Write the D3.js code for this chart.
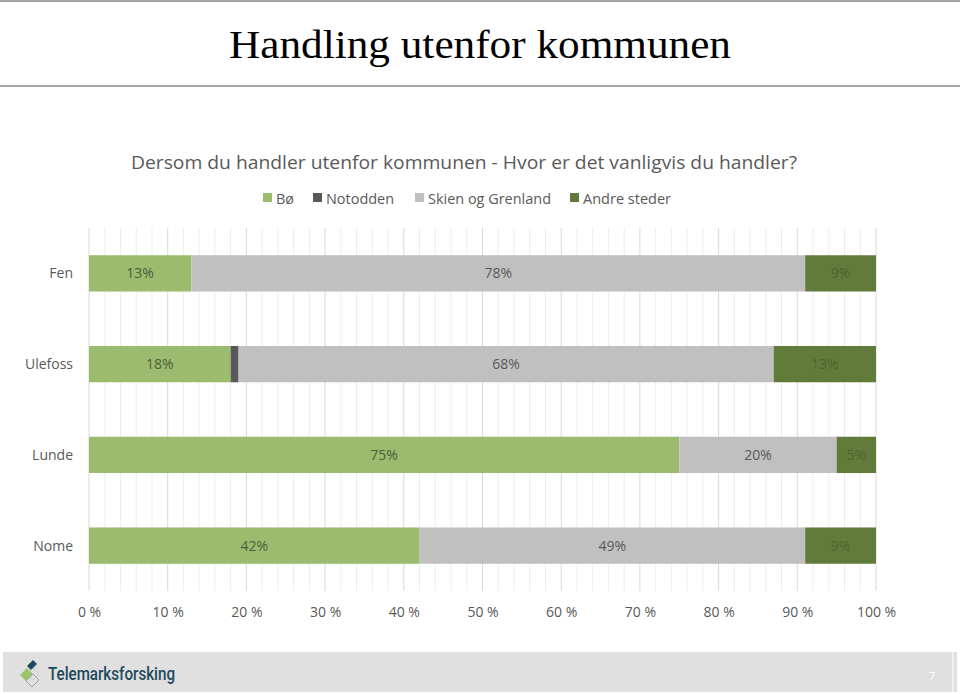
<!DOCTYPE html>
<html>
<head>
<meta charset="utf-8">
<script src="https://cdn.jsdelivr.net/npm/d3@7.9.0/dist/d3.min.js"></script>
<style>
  body { margin: 0; background: #fff; }
  svg { display: block; }
</style>
</head>
<body>
<svg id="chart" width="960" height="694"></svg>
<script>
const categories = ["Fen", "Ulefoss", "Lunde", "Nome"];
const series = ["Bø", "Notodden", "Skien og Grenland", "Andre steder"];
const bo = [13, 18, 75, 42];
const notodden = [0, 1, 0, 0];
const skien = [78, 68, 20, 49];
const andre = [9, 13, 5, 9];
const ticks = [0, 10, 20, 30, 40, 50, 60, 70, 80, 90, 100];

const colors = ["#9bbb6e", "#595959", "#c0c0c0", "#617c3a"];
const labelColors = ["#4f5e3b", "#595959", "#595959", "#4e6530"];

const rows = categories.map((c, i) => ({
  cat: c, "Bø": bo[i], "Notodden": notodden[i],
  "Skien og Grenland": skien[i], "Andre steder": andre[i]
}));
const stacked = d3.stack().keys(series)(rows);

const svg = d3.select("#chart");
const font = "'Open Sans', 'Liberation Sans', sans-serif";

// header lines
svg.append("rect").attr("x", 0).attr("y", 0).attr("width", 960).attr("height", 2).attr("fill", "#a6a6a6");
svg.append("rect").attr("x", 0).attr("y", 85).attr("width", 960).attr("height", 2).attr("fill", "#a6a6a6");

svg.append("text")
  .attr("x", 480).attr("y", 58)
  .attr("text-anchor", "middle")
  .attr("font-family", "'Liberation Serif', serif")
  .attr("font-size", 41)
  .attr("textLength", 502)
  .attr("lengthAdjust", "spacingAndGlyphs")
  .attr("fill", "#000")
  .text("Handling utenfor kommunen");

svg.append("text")
  .attr("x", 131).attr("y", 169)
  .attr("font-family", font)
  .attr("font-size", 19)
  .attr("textLength", 666)
  .attr("lengthAdjust", "spacingAndGlyphs")
  .attr("fill", "#595959")
  .text("Dersom du handler utenfor kommunen - Hvor er det vanligvis du handler?");

// legend
const legendX = [263, 313, 415, 570];
const legendW = [18, 68, 123, 88];
const legend = svg.append("g");
series.forEach((s, i) => {
  legend.append("rect").attr("x", legendX[i]).attr("y", 193)
    .attr("width", 9).attr("height", 9).attr("fill", colors[i]);
  legend.append("text").attr("x", legendX[i] + 13).attr("y", 204)
    .attr("font-family", font).attr("font-size", 14)
    .attr("textLength", legendW[i]).attr("lengthAdjust", "spacingAndGlyphs")
    .attr("fill", "#595959").text(s);
});

const x = d3.scaleLinear().domain([0, 100]).range([89, 876]);
const y = d3.scaleBand().domain(categories).range([228, 591]).paddingInner(0.6).paddingOuter(0.3);

// grid
const grid = svg.append("g");
grid.selectAll("line.minor").data(d3.range(0, 101, 2).filter(v => v % 10 !== 0))
  .join("line").attr("class", "minor")
  .attr("x1", d => x(d)).attr("x2", d => x(d))
  .attr("y1", 228).attr("y2", 591)
  .attr("stroke", "#ededed").attr("stroke-width", 1);
grid.selectAll("line.major").data(ticks)
  .join("line").attr("class", "major")
  .attr("x1", d => x(d)).attr("x2", d => x(d))
  .attr("y1", 228).attr("y2", 591)
  .attr("stroke", "#d9d9d9").attr("stroke-width", 1);

// bars
stacked.forEach((layer, si) => {
  const g = svg.append("g");
  g.selectAll("rect").data(layer).join("rect")
    .attr("x", d => x(d[0]))
    .attr("y", (d, i) => y(categories[i]))
    .attr("width", d => x(d[1]) - x(d[0]))
    .attr("height", y.bandwidth())
    .attr("fill", colors[si]);
  g.selectAll("text").data(layer.filter(d => d[1] - d[0] >= 3)).join("text")
    .attr("x", d => (x(d[0]) + x(d[1])) / 2)
    .attr("y", d => y(d.data.cat) + y.bandwidth() / 2 + 5)
    .attr("text-anchor", "middle")
    .attr("font-family", font).attr("font-size", 14)
    .attr("fill", labelColors[si])
    .text(d => Math.round(d[1] - d[0]) + "%");
});

// category labels
svg.append("g").selectAll("text").data(categories).join("text")
  .attr("x", 73).attr("y", d => y(d) + y.bandwidth() / 2 + 5)
  .attr("text-anchor", "end")
  .attr("font-family", font).attr("font-size", 14)
  .attr("fill", "#595959").text(d => d);

// x axis
const xAxis = svg.append("g").attr("transform", "translate(0,591)")
  .call(d3.axisBottom(x).tickValues(ticks).tickSize(0).tickFormat(d => d + " %"));
xAxis.select(".domain").remove();
xAxis.selectAll("text")
  .attr("dy", 0).attr("y", 26)
  .attr("font-family", font).attr("font-size", 14).attr("fill", "#595959");

// footer
svg.append("rect").attr("x", 3).attr("y", 652).attr("width", 954).attr("height", 40).attr("fill", "#e0e0e0");
svg.append("rect").attr("x", 952).attr("y", 652).attr("width", 1.5).attr("height", 40).attr("fill", "#f2f2f2");
svg.append("text").attr("x", 932).attr("y", 680).attr("text-anchor", "middle")
  .attr("font-family", font).attr("font-size", 11).attr("fill", "#ffffff").text("7");

// logo
const logo = svg.append("g").attr("transform", "translate(16,657)");
logo.append("path").attr("d", "M4,18 L11,11 L17,17 L10,24 Z").attr("fill", "#9bc36a");
logo.append("path").attr("d", "M10,24 L17,17 L23,23 L16,30 Z").attr("fill", "none")
  .attr("stroke", "#9aa8ae").attr("stroke-width", 1);
logo.append("path").attr("d", "M11,9 L17,3 L21,7 L15,13 Z").attr("fill", "#1d4a5c");
logo.append("path").attr("d", "M17,11 L23,17 L17,23 L11,17 Z").attr("fill", "none")
  .attr("stroke", "#b5c0c4").attr("stroke-width", 1).attr("stroke-dasharray", "1,1");
svg.append("text").attr("x", 48).attr("y", 680)
  .attr("font-family", "'Roboto', 'Open Sans', sans-serif").attr("font-size", 18)
  .attr("font-weight", 500)
  .attr("textLength", 127).attr("lengthAdjust", "spacingAndGlyphs")
  .attr("fill", "#1d4a5c").text("Telemarksforsking");
</script>
</body>
</html>
